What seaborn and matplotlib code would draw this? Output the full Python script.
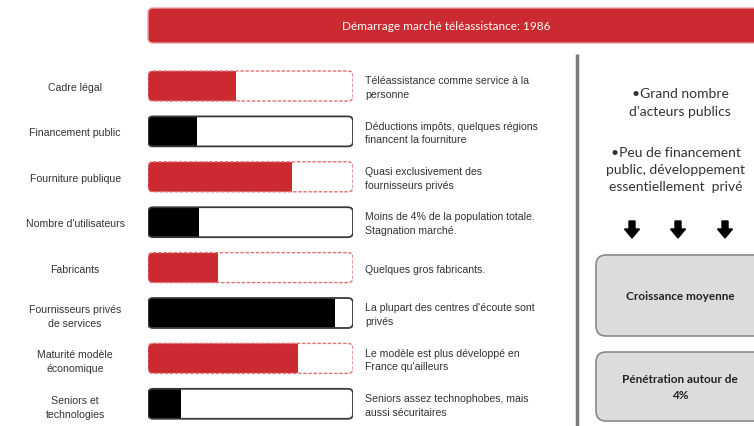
import numpy as np
import pandas as pd
import matplotlib
matplotlib.use("Agg")
import matplotlib.pyplot as plt
import matplotlib.transforms as mtransforms
from matplotlib.patches import FancyBboxPatch, FancyArrow
import seaborn as sns

# ── Data ──────────────────────────────────────────────────────────────────────
criteres = [
    "Cadre légal",
    "Financement public",
    "Fourniture publique",
    "Nombre d'utilisateurs",
    "Fabricants",
    "Fournisseurs privés\nde services",
    "Maturité modèle\néconomique",
    "Seniors et\ntechnologies",
]
niveaux = [0.43, 0.24, 0.70, 0.25, 0.34, 0.91, 0.73, 0.16]
echelle = [1.0, 1.0, 1.0, 1.0, 1.0, 1.0, 1.0, 1.0]
couleurs = ["rouge", "noir", "rouge", "noir", "rouge", "noir", "rouge", "noir"]
commentaires = [
    "Téléassistance comme service à la\npersonne",
    "Déductions impôts, quelques régions\nfinancent la fourniture",
    "Quasi exclusivement des\nfournisseurs privés",
    "Moins de 4% de la population totale.\nStagnation marché.",
    "Quelques gros fabricants.",
    "La plupart des centres d'écoute sont\nprivés",
    "Le modèle est plus développé en\nFrance qu'ailleurs",
    "Seniors assez technophobes, mais\naussi sécuritaires",
]
titre = "Démarrage marché téléassistance: 1986"
synthese = [
    "•Grand nombre\nd'acteurs publics",
    "•Peu de financement\npublic, développement\nessentiellement  privé",
]
conclusions = ["Croissance moyenne", "Pénétration autour de\n4%"]

# ── Style ─────────────────────────────────────────────────────────────────────
RED = "#cb2a30"
RED_EDGE = "#e47070"
BLACK = "#000000"
BLACK_EDGE = "#3a3a3a"
TEXT = "#333333"
W, H = 754, 427
CAL = ["Lato", "DejaVu Sans"]

sns.set_style("white")
plt.rcParams["font.family"] = ["Liberation Sans", "DejaVu Sans"]

fig = plt.figure(figsize=(W / 100, H / 100), dpi=100, facecolor="white")

# background layer in pixel coordinates for decorations
bg = fig.add_axes([0, 0, 1, 1], zorder=0)
bg.set_xlim(0, W)
bg.set_ylim(H, 0)
bg.axis("off")

# banner
bg.add_patch(FancyBboxPatch((148, 9), 640, 35, boxstyle="round,pad=0,rounding_size=5",
                            fc=RED, ec="#e8a0a0", lw=1))
bg.text(446, 27, titre, color="white", fontsize=8.5, ha="center", va="center", family=CAL)

# divider
bg.plot([577, 577], [55, H], color="#7a7a7a", lw=2.5, solid_capstyle="butt")

# right panel
bg.text(680, 103, synthese[0], ha="center", va="center", fontsize=10, color=TEXT,
        family=CAL, linespacing=1.5)
bg.text(676, 170, synthese[1], ha="center", va="center", fontsize=10, color=TEXT,
        family=CAL, linespacing=1.5)
for xa in (632, 678, 725):
    bg.add_patch(FancyArrow(xa, 222, 0, 17, width=6, head_width=15, head_length=9,
                            length_includes_head=True, color="black"))
for (y0, h), txt in zip([(256, 81), (353, 69)], conclusions):
    bg.add_patch(FancyBboxPatch((596, y0), 175, h, boxstyle="round,pad=0,rounding_size=10",
                                fc="#dcdcdc", ec="#8a8a8a", lw=1.2))
    bg.text(680, y0 + h / 2, txt, ha="center", va="center", fontsize=8.5,
            fontweight="bold", color="#222222", family=CAL, linespacing=1.6)

# ── Bars ──────────────────────────────────────────────────────────────────────
row = 45.4
y_top = 87 - row / 2
y_bot = y_top + row * len(criteres)
ax = fig.add_axes([148 / W, 1 - y_bot / H, 205 / W, (y_bot - y_top) / H], zorder=2)

df = pd.DataFrame({"critere": criteres, "niveau": niveaux, "echelle": echelle,
                   "couleur": couleurs})
fill_pal = {c: (RED if k == "rouge" else BLACK) for c, k in zip(criteres, couleurs)}

sns.barplot(data=df, x="echelle", y="critere", hue="critere", palette=["white"] * len(criteres),
            orient="h", width=0.66, legend=False, ax=ax, linewidth=0, saturation=1)
n_track = len(ax.patches)
sns.barplot(data=df, x="niveau", y="critere", hue="critere", palette=fill_pal,
            orient="h", width=0.66, legend=False, ax=ax, linewidth=0, saturation=1)
ax.set_xlim(0, 1)
ax.set_ylim(len(criteres) - 0.5, -0.5)

rx = 5 / 205
asp = (1 / row) / (1 / 205)
tracks = list(ax.patches[:n_track])
fills = list(ax.patches[n_track:])
for tr, fl, k in zip(tracks, fills, couleurs):
    x, y, w, h = tr.get_x(), tr.get_y(), tr.get_width(), tr.get_height()
    style = f"round,pad=0,rounding_size={rx}"
    base = FancyBboxPatch((x, y), w, h, boxstyle=style, mutation_aspect=asp,
                          fc="white", ec="none", zorder=1)
    ax.add_patch(base)
    edge = RED_EDGE if k == "rouge" else BLACK_EDGE
    ls = (0, (2.5, 1.2)) if k == "rouge" else "-"
    lw = 1.0 if k == "rouge" else 1.3
    ax.add_patch(FancyBboxPatch((x, y), w, h, boxstyle=style, mutation_aspect=asp,
                                fc="none", ec=edge, lw=lw, ls=ls, zorder=3))
    tr.remove()
    fl.set_zorder(2)
    fl.set_clip_path(base)

ax.set_xlabel("")
ax.set_ylabel("")
ax.set_xticks([])
for s in ax.spines.values():
    s.set_visible(False)
ax.tick_params(axis="y", length=0, pad=52.5, labelsize=7.6, labelcolor=TEXT)
for lab in ax.get_yticklabels():
    lab.set_ha("center")
    lab.set_multialignment("center")
    lab.set_linespacing(1.5)

trans = mtransforms.blended_transform_factory(ax.transAxes, ax.transData)
for i, txt in enumerate(commentaires):
    ax.text(1.06, i + 0.02, txt, transform=trans, ha="left", va="center",
            fontsize=7.6, color=TEXT, linespacing=1.45, clip_on=False)

fig.savefig("out.png", dpi=100, facecolor="white")
